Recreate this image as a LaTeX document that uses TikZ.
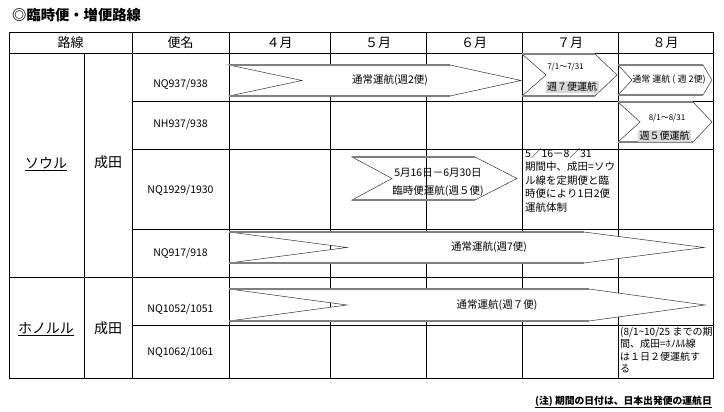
\documentclass[tikz,border=0pt]{standalone}
\usepackage{fontspec}
\setmainfont{Noto Sans CJK JP}

\tikzset{every node/.style={inner sep=0pt}}
\tikzset{
  tabline/.style={line width=0.8pt},
  skedline/.style={draw=black!80, line width=0.5pt},
  skededge/.style={draw=black!50, line width=1.2pt},
  hilite/.style={fill=black!15, inner sep=1.5pt},
  headtext/.style={font=\fontsize{13}{15}\selectfont},
  routetext/.style={font=\fontsize{14}{16}\selectfont},
}
% left, notch, body end, tip, top, bottom, fill
\newcommand{\sked}[7]{%
  \draw[skedline, fill=#7] (#1,#5) -- (#3,#5) -- (#4,{(#5+#6)/2}) -- (#3,#6) -- (#1,#6) -- (#2,{(#5+#6)/2}) -- cycle;
  \draw[skededge] (#1,#5) -- (#3,#5) (#1,#6) -- (#3,#6);}

\begin{document}
\begin{tikzpicture}[x=1pt, y=-1pt, every node/.style={inner sep=0pt, font=\fontsize{10.5}{12}\selectfont}]
		\fill[white] (0,0) rectangle (724,412);
		\useasboundingbox (0,0) rectangle (724,412);
		
		% Draw the title
		\node[anchor=west, font=\fontsize{14.3}{16}\selectfont\bfseries] (title) at (12,15) {◎臨時便・増便路線};
		
		% Draw the table
		\draw[tabline] (9,32) rectangle (713,378);
		\draw[tabline] (9,53) -- (713,53);
		\draw[tabline] (9,277) -- (713,277);
		\foreach \y in {101,149,229,325}
			\draw[tabline] (132,\y) -- (713,\y);
		\draw[tabline] (84,53) -- (84,378);
		\foreach \x in {132,229,330,426,522,618}
			\draw[tabline] (\x,32) -- (\x,378);
		
		% Draw the header
		\node[headtext] (hroute) at (70.5,42.5) {路線};
		\node[headtext] (hflight) at (180.5,42.5) {便名};
		\node[headtext] (hapr) at (279.5,42.5) {４月};
		\node[headtext] (hmay) at (378,42.5) {５月};
		\node[headtext] (hjun) at (474,42.5) {６月};
		\node[headtext] (hjul) at (570,42.5) {７月};
		\node[headtext] (haug) at (665.5,42.5) {８月};
		
		% Draw the routes
		\node[routetext] (seoul) at (46,164) {\underline{ソウル}};
		\node[routetext] (naritaA) at (108,162) {成田};
		\node[routetext] (honolulu) at (46,329) {\underline{ホノルル}};
		\node[routetext] (naritaB) at (108,328) {成田};
		
		\node (fA) at (180.5,84) {NQ937/938};
		\node (fB) at (180.5,124) {NH937/938};
		\node (fC) at (180.5,190) {NQ1929/1930};
		\node (fD) at (180.5,253) {NQ917/918};
		\node (fE) at (180.5,309) {NQ1052/1051};
		\node (fF) at (180.5,352) {NQ1062/1061};
		
		% Draw the schedule arrows
		\sked{229}{302}{450}{521}{65}{96}{white}
		\node (sA) at (390,80.5) {通常運航(週2便)};
		
		\sked{522}{546}{595}{617}{54}{96}{white}
		\node[font=\fontsize{8}{10}\selectfont] (sBdate) at (565.5,67) {7/1〜7/31};
		\node[hilite, font=\fontsize{10}{12}\selectfont] (sB) at (572,87) {週７便運航};
		
		\sked{618}{632}{703}{712}{65}{95}{white}
		\node[font=\fontsize{9}{11}\selectfont] (sC) at (669,80) {通常 運航 ( 週 2便)};
		
		\sked{618}{640}{693}{712}{102}{142}{white}
		\node[font=\fontsize{8}{10}\selectfont] (sDdate) at (667,118) {8/1〜8/31};
		\node[hilite, font=\fontsize{10}{12}\selectfont] (sD) at (664.5,136) {週５便運航};
		
		\sked{352}{392}{475}{517}{157}{200}{none}
		\node (sEdate) at (438,173) {5月16日－6月30日};
		\node (sE) at (438,191) {臨時便運航(週５便)};
		
		\sked{229}{347}{584}{704}{232}{263}{white}
		\node (sF) at (489,247.5) {通常運航(週7便)};
		
		\sked{229}{347}{589}{705}{289}{321}{white}
		\node (sG) at (497,305) {通常運航(週７便)};
		
		% Draw the notes
		\node[anchor=north west, align=left, font=\fontsize{10.5}{13.5}\selectfont] (noteA) at (525,148) {5／16－8／31\\期間中、成田=ソウ\\ル線を定期便と臨\\時便により1日2便\\運航体制};
		\node[anchor=north west, align=left, font=\fontsize{10}{12.3}\selectfont] (noteB) at (620,327) {(8/1\textasciitilde10/25 までの期\\間、成田=ﾎﾉﾙﾙ線\\は１日２便運航す\\る};
		\node[anchor=east, font=\fontsize{9.8}{12}\selectfont\bfseries] (foot) at (712,402) {\underline{(注) 期間の日付は、日本出発便の運航日}};
	\end{tikzpicture}
\end{document}
